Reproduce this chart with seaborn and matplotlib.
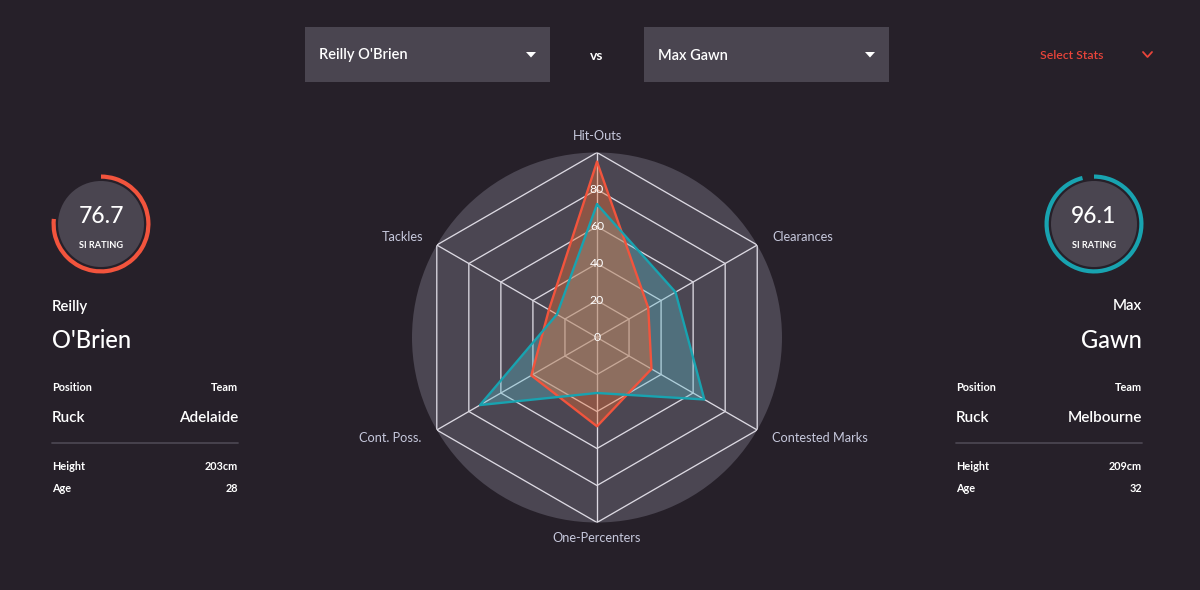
import numpy as np
import pandas as pd
import matplotlib
matplotlib.use("Agg")
import matplotlib.pyplot as plt
from matplotlib.patches import Rectangle, Circle, Wedge, Polygon
import seaborn as sns

# ---------------- data ----------------
categories = ["Hit-Outs", "Clearances", "Contested Marks", "One-Percenters", "Cont. Poss.", "Tackles"]
players = ["Reilly O'Brien", "Max Gawn"]
obrien_values = [95, 32, 34, 48, 41, 30]
gawn_values = [72, 49, 67, 30, 73, 25]
ring_ticks = [0, 20, 40, 60, 80]
ring_levels = [20, 40, 60, 80, 100]
si_ratings = [76.7, 96.1]
first_names = ["Reilly", "Max"]
last_names = ["O'Brien", "Gawn"]
positions = ["Ruck", "Ruck"]
teams = ["Adelaide", "Melbourne"]
heights = ["203cm", "209cm"]
ages = ["28", "32"]

BG = "#262029"
PANEL = "#4a4550"
DISK = "#4b4652"
GRID = "#dcd9e2"
ORANGE = "#f2543d"
ORANGE_FILL = "#ea6e34"
TEAL = "#18a3b0"
TEAL_FILL = "#5bbccc"
LABEL = "#c6c8dc"
RED = "#e8443a"

sns.set_style("dark")
plt.rcParams["font.family"] = ["Lato", "DejaVu Sans"]

fig = plt.figure(figsize=(12, 5.9), dpi=100, facecolor=BG)

# ---------- background / layout axes in pixel coordinates ----------
bg = fig.add_axes([0, 0, 1, 1], zorder=0)
bg.set_xlim(0, 1200)
bg.set_ylim(590, 0)
bg.axis("off")
bg.set_facecolor(BG)

# dropdowns
for x0, name in [(305, players[0]), (644, players[1])]:
    bg.add_patch(Rectangle((x0, 27), 245, 55, facecolor=PANEL, edgecolor="none"))
    bg.text(x0 + 14, 59.5, name, color="white", fontsize=10.5, fontweight="semibold", va="baseline", ha="left")
    tx = x0 + 226
    bg.add_patch(Polygon([[tx - 5, 52], [tx + 5, 52], [tx, 57.5]], closed=True, facecolor="white", edgecolor="none"))
bg.text(597, 59.5, "vs", color="white", fontsize=10, fontweight="bold", ha="center", va="baseline")
bg.text(1040, 59, "Select Stats", color=RED, fontsize=8.8, fontweight="semibold", ha="left", va="baseline")
bg.plot([1143, 1147.5, 1152], [52, 57, 52], color=RED, lw=1.3)

# player panels
def panel(cx, side, idx, color):
    bg.add_patch(Circle((cx, 224), 43, facecolor=PANEL, edgecolor="none"))
    sweep = si_ratings[idx] / 100 * 360
    bg.add_patch(Wedge((cx, 224), 49.5, -90, -90 + sweep, width=4.2, facecolor=color, edgecolor="none"))
    bg.text(cx, 223, f"{si_ratings[idx]}", color="white", fontsize=16.5, fontweight="medium", ha="center", va="baseline")
    bg.text(cx, 247.5, "SI RATING", color="white", fontsize=6.6, fontweight="bold", ha="center", va="baseline")
    lx, rx = side
    name_x, name_ha = (lx, "left") if idx == 0 else (rx, "right")
    bg.text(name_x, 310.5, first_names[idx], color="white", fontsize=10.8, fontweight="semibold", ha=name_ha, va="baseline")
    bg.text(name_x, 348, last_names[idx], color="white", fontsize=17, fontweight="medium", ha=name_ha, va="baseline")
    bg.text(lx, 391, "Position", color="white", fontsize=7.8, fontweight="bold", ha="left", va="baseline")
    bg.text(rx, 391, "Team", color="white", fontsize=7.8, fontweight="bold", ha="right", va="baseline")
    bg.text(lx, 421.5, positions[idx], color="white", fontsize=11, fontweight="semibold", ha="left", va="baseline")
    bg.text(rx, 421.5, teams[idx], color="white", fontsize=11, fontweight="semibold", ha="right", va="baseline")
    bg.plot([lx, rx], [442.5, 442.5], color=PANEL, lw=1.3)
    bg.text(lx, 470, "Height", color="white", fontsize=7.8, fontweight="bold", ha="left", va="baseline")
    bg.text(rx, 470, heights[idx], color="white", fontsize=7.8, fontweight="bold", ha="right", va="baseline")
    bg.text(lx, 492, "Age", color="white", fontsize=7.8, fontweight="bold", ha="left", va="baseline")
    bg.text(rx, 492, ages[idx], color="white", fontsize=7.8, fontweight="bold", ha="right", va="baseline")

panel(101, (52, 238), 0, ORANGE)
panel(1094, (956, 1142), 1, TEAL)

# ---------------- radar ----------------
cx, cy, R = 597, 337.5, 185
ax = fig.add_axes([(cx - R) / 1200, (590 - cy - R) / 590, 2 * R / 1200, 2 * R / 590],
                  projection="polar", zorder=2)
ax.set_theta_offset(np.pi / 2)
ax.set_theta_direction(-1)
ax.set_ylim(0, 100)
ax.set_facecolor(DISK)
ax.grid(False)
ax.spines["polar"].set_visible(False)

n = len(categories)
theta = np.arange(n) * 2 * np.pi / n
theta_closed = np.append(theta, 2 * np.pi)

for lvl in ring_levels:
    ax.plot(theta_closed, [lvl] * (n + 1), color=GRID, lw=0.95, zorder=1)
for t in theta:
    ax.plot([t, t], [0, 100], color=GRID, lw=0.95, zorder=1)

rows = []
for player, vals in [(players[0], obrien_values), (players[1], gawn_values)]:
    closed = list(vals) + [vals[0]]
    for t, v in zip(theta_closed, closed):
        rows.append({"player": player, "theta": t, "value": v})
df = pd.DataFrame(rows)

# fills: Max Gawn underneath, Reilly O'Brien on top
fills = [(players[1], TEAL_FILL, 0.35, 2), (players[0], ORANGE_FILL, 0.40, 3)]
for player, col, a, z in fills:
    sub = df[df.player == player]
    ax.fill(sub["theta"], sub["value"], color=col, alpha=a, zorder=z, lw=0)

# outlines above both fills
lines = [(players[0], ORANGE, 5), (players[1], TEAL, 6)]
for player, col, z in lines:
    sub = df[df.player == player]
    sns.lineplot(data=sub, x="theta", y="value", sort=False, estimator=None,
                 color=col, lw=1.7, ax=ax, legend=False, zorder=z)

ax.set_xlabel("")
ax.set_ylabel("")
ax.set_ylim(0, 100)
ax.set_xticks([])
ax.set_yticks([])
ax.grid(False)

for v in ring_ticks:
    ax.text(0, v, str(v), color="white", fontsize=8.8, ha="center", va="center", zorder=7)

label_offsets = {
    "Hit-Outs": (0, 17, "center"),
    "Clearances": (15, 8, "left"),
    "Contested Marks": (15, -8, "left"),
    "One-Percenters": (0, -16, "center"),
    "Cont. Poss.": (-15, -8, "right"),
    "Tackles": (-14, 8, "right"),
}
for t, cat in zip(theta, categories):
    dx, dy, ha = label_offsets[cat]
    ax.annotate(cat, xy=(t, 100), xytext=(dx, dy), textcoords="offset pixels",
                ha=ha, va="center", color=LABEL, fontsize=9.2, annotation_clip=False)

fig.savefig("out.png", dpi=100, facecolor=BG)
